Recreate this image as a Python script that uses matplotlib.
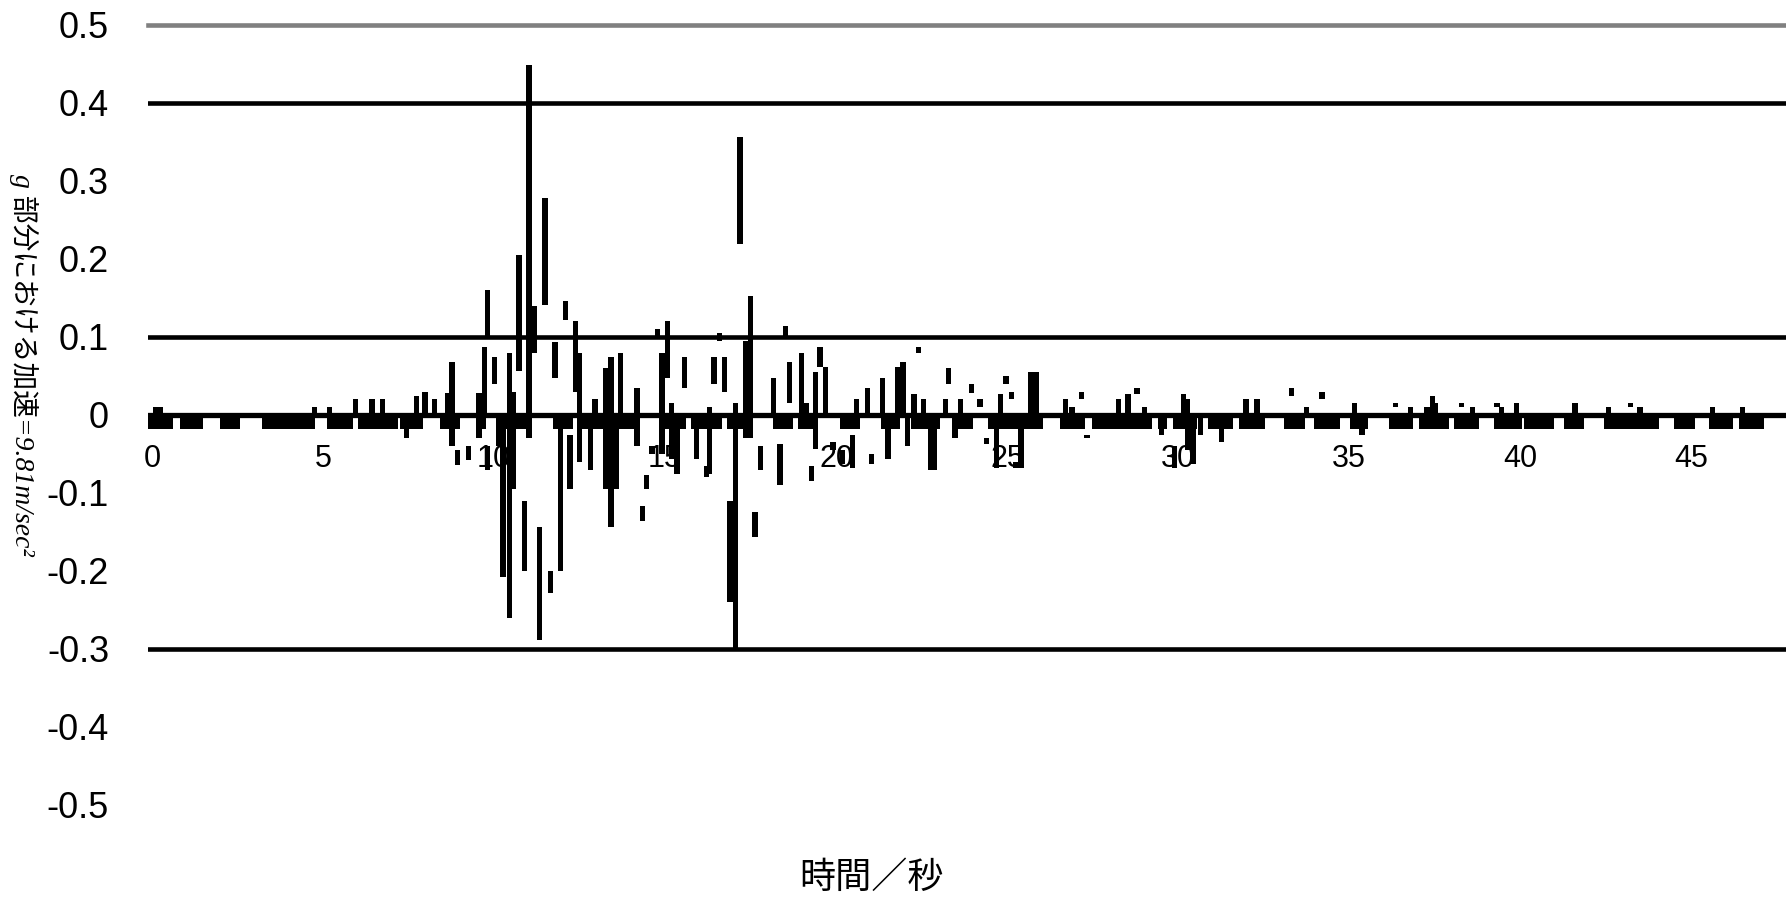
import matplotlib.pyplot as plt
import numpy as np

plt.rcParams['font.family'] = ['Liberation Sans', 'Noto Sans CJK JP']

# time axis (s) and acceleration axis (g)
x_ticks = [0, 5, 10, 15, 20, 25, 30, 35, 40, 45]
y_ticks = [-0.5, -0.4, -0.3, -0.2, -0.1, 0, 0.1, 0.2, 0.3, 0.4, 0.5]
y_labels = ["-0.5", "-0.4", "-0.3", "-0.2", "-0.1", "0", "0.1", "0.2", "0.3", "0.4", "0.5"]
grid_black = [0.4, 0.1, -0.3]
grid_grey = [0.5]

# baseline band just below zero: start / end time (s)
band_t0 = [-0.12, 0.82, 1.99, 3.22, 5.12, 6.02, 7.25, 8.42, 9.47, 10.06, 11.73, 12.46,
           14.85, 15.76, 16.81, 18.16, 18.89, 20.12, 21.32, 22.19, 23.39, 24.44, 26.55,
           27.49, 29.42, 29.85, 30.88, 31.78, 33.10, 33.98, 35.03, 36.17, 37.05, 38.07,
           39.24, 40.12, 41.29, 42.46, 44.50, 45.53, 46.40]
band_t1 = [0.61, 1.49, 2.57, 4.77, 5.88, 7.19, 7.92, 9.01, 9.77, 11.11, 12.31, 14.27,
           15.61, 16.67, 17.54, 18.74, 19.47, 20.70, 21.87, 23.04, 24.01, 26.05, 27.28,
           29.24, 29.68, 30.56, 31.61, 32.54, 33.71, 34.74, 35.56, 36.87, 37.92, 38.80,
           40.06, 40.99, 41.87, 44.06, 45.12, 46.23, 47.13]
band_depth = -0.018

# individual traces: time (s), low and high value (g)
spike_t = [0.10, 0.25, 4.74, 5.18, 5.94, 6.43, 6.73, 7.43, 7.72, 7.98, 8.27, 8.63,
           8.77, 8.92, 9.24, 9.56, 9.71, 9.82, 9.82, 10.00, 10.12, 10.26, 10.44, 10.58,
           10.73, 10.88, 11.02, 11.17, 11.32, 11.49, 11.64, 11.78, 11.93, 12.08, 12.22,
           12.37, 12.51, 12.81, 12.95, 13.27, 13.42, 13.57, 13.71, 14.18, 14.33, 14.47,
           14.62, 14.77, 14.91, 15.06, 15.20, 15.35, 15.56, 15.91, 16.20, 16.30, 16.43,
           16.58, 16.73, 16.90, 17.05, 17.19, 17.34, 17.49, 17.63, 17.78, 18.16, 18.36,
           18.51, 18.65, 18.98, 19.12, 19.27, 19.39, 19.53, 19.68, 19.91, 20.18, 20.47,
           20.61, 20.91, 21.05, 21.37, 21.52, 21.81, 21.96, 22.10, 22.28, 22.40, 22.57,
           22.75, 22.89, 23.19, 23.30, 23.48, 23.63, 23.95, 24.21, 24.39, 24.68, 24.80,
           24.97, 25.12, 25.26, 25.41, 25.70, 25.85, 26.70, 26.90, 27.19, 27.34, 28.25,
           28.54, 28.80, 29.01, 29.53, 29.91, 30.15, 30.29, 30.44, 30.67, 31.26, 31.99,
           32.31, 33.33, 33.77, 34.21, 35.15, 35.38, 36.37, 36.81, 37.28, 37.43, 37.54,
           38.30, 38.60, 39.33, 39.47, 39.91, 41.61, 42.60, 43.22, 43.51, 45.64, 46.52]
spike_lo = [0, 0, 0, 0, 0, 0, 0, -0.03, 0, 0, 0, 0,
            -0.04, -0.064, -0.058, -0.03, 0, -0.07, 0.10, 0.04, -0.04, -0.208, -0.26, -0.095,
            0.056, -0.2, -0.03, 0.08, -0.288, 0.141, -0.228, 0.047, -0.2, 0.122, -0.095,
            0.03, -0.06, -0.07, 0, -0.095, -0.143, -0.095, 0, -0.04, -0.136, -0.095,
            -0.05, 0.1, -0.05, 0.048, -0.057, -0.076, 0.035, -0.057, -0.08, -0.076, 0.04,
            0.095, 0.03, -0.24, -0.3, 0.219, -0.03, -0.03, -0.156, -0.07, 0, -0.09,
            0.1, 0.015, 0, 0, -0.085, -0.043, 0.062, 0, -0.045, -0.063, -0.068,
            0, 0, -0.063, 0, -0.057, 0, 0, -0.04, 0, 0.08, 0,
            -0.07, -0.07, 0, 0.04, -0.03, 0, 0.028, 0.01, -0.037, -0.068, 0,
            0.04, 0.02, -0.068, -0.068, 0, 0, 0, 0, 0.02, -0.03, 0,
            0, 0.027, 0, -0.025, -0.068, 0, -0.045, -0.063, -0.025, -0.035, 0,
            0, 0.025, 0, 0.02, 0, -0.025, 0.01, 0, 0, 0, 0,
            0.01, 0, 0.01, 0, 0, 0, 0, 0.01, 0, 0, 0]
spike_hi = [0.01, 0.01, 0.01, 0.01, 0.02, 0.02, 0.02, 0, 0.025, 0.03, 0.02, 0.028,
            0.068, -0.045, -0.04, 0.028, 0.087, -0.04, 0.16, 0.074, 0, 0, 0.08, 0.03,
            0.205, -0.11, 0.449, 0.14, -0.143, 0.278, -0.2, 0.093, 0, 0.146, -0.025,
            0.12, 0.08, 0, 0.02, 0.06, 0.075, 0, 0.08, 0.035, -0.117, -0.077,
            -0.04, 0.11, 0.08, 0.12, 0.015, 0, 0.074, 0, -0.065, 0.01, 0.074,
            0.105, 0.074, -0.11, 0.015, 0.356, 0.095, 0.153, -0.124, -0.04, 0.047, -0.037,
            0.114, 0.068, 0.08, 0.015, -0.065, 0.055, 0.087, 0.062, -0.035, -0.045, -0.025,
            0.02, 0.035, -0.05, 0.047, 0, 0.062, 0.068, 0, 0.027, 0.087, 0.02,
            0, 0, 0.02, 0.06, 0, 0.02, 0.04, 0.02, -0.03, 0, 0.027,
            0.05, 0.03, -0.06, 0, 0.055, 0.055, 0.02, 0.01, 0.03, -0.025, 0.02,
            0.027, 0.035, 0.01, 0, -0.04, 0.027, 0.02, 0, 0, 0, 0.02,
            0.02, 0.035, 0.01, 0.03, 0.015, 0, 0.015, 0.01, 0.01, 0.025, 0.015,
            0.015, 0.01, 0.015, 0.01, 0.015, 0.015, 0.01, 0.015, 0.01, 0.01, 0.01]

fig = plt.figure(figsize=(17.86, 8.99), dpi=100)
ax = fig.add_axes([148 / 1786, 94 / 899, 1 - 148 / 1786, 780 / 899])

lo = np.array(spike_lo)
hi = np.array(spike_hi)
ax.bar(spike_t, hi - lo, bottom=lo, width=0.15, color="black", linewidth=0, zorder=3)
b0 = np.array(band_t0)
b1 = np.array(band_t1)
ax.bar(b0, band_depth, width=b1 - b0, align="edge", color="black", linewidth=0, zorder=3)

for g in grid_black:
    ax.axhline(g, color="black", lw=3.3, zorder=2)
for g in grid_grey:
    ax.axhline(g, color="#808080", lw=3.3, zorder=2, clip_on=False)
ax.axhline(0, color="black", lw=3.8, zorder=4)

ax.set_xlim(-0.12, 47.78)
ax.set_ylim(-0.5, 0.5)
for s in ax.spines.values():
    s.set_visible(False)
ax.spines["bottom"].set_position(("data", 0))

ax.set_xticks(x_ticks)
ax.set_xticklabels([str(v) for v in x_ticks])
ax.set_yticks(y_ticks)
ax.set_yticklabels(y_labels)
ax.set_yticks([0.5, 0.4, 0.1, 0, -0.3], minor=True)
ax.tick_params(axis="x", length=0, pad=21, labelsize=22)
ax.tick_params(axis="y", which="major", length=0, pad=28, labelsize=26)
ax.tick_params(axis="y", which="minor", length=7.2, width=3.3, direction="out", color="black")

fig.text(24 / 1786, 1 - 365 / 899, "g 部分における加速=9.81m/sec²", rotation=270,
         ha="center", va="center", fontsize=20, style="italic",
         family=["Liberation Serif", "Noto Sans CJK JP"])
fig.text(871 / 1786, 3 / 899, "時間／秒", ha="center", va="bottom", fontsize=26,
         family=["Noto Sans CJK JP", "DejaVu Sans"])

fig.savefig("out.png", dpi=100)
